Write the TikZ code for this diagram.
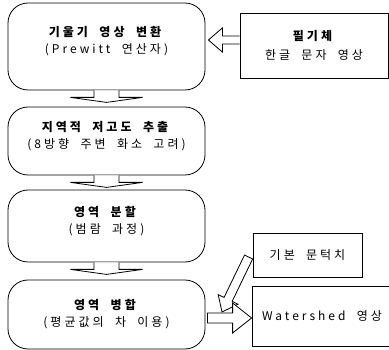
\documentclass[tikz,border=0pt]{standalone}
\usepackage{fontspec}
\setmainfont{Noto Sans CJK KR}[LetterSpace=25, WordSpace=2]
\usetikzlibrary{calc}
\tikzset{
  flow/.style={draw, line width=0.8pt, rounded corners=20pt, minimum width=197pt, align=center, inner sep=0pt, font=\fontsize{12}{17}\selectfont},
  sidebox/.style={draw, line width=0.8pt, align=center, inner sep=0pt, font=\fontsize{12}{19}\selectfont},
  barrow/.style={draw, line width=0.8pt, fill=white, line join=miter},
}
\begin{document}
\begin{tikzpicture}[x=1pt,y=-1pt]
\useasboundingbox (0,0) rectangle (389,350);
% main flow
\node[flow, minimum height=87pt] (b1) at (106.5,46.5) {\textbf{기울기 영상 변환}\\(Prewitt 연산자)\\[-4pt]};
\node[flow, minimum height=68pt] (b2) at (106.5,141) {\textbf{지역적 저고도 추출}\\(8방향 주변 화소 고려)\\[-4pt]};
\node[flow, minimum height=72pt] (b3) at (106.5,226) {\textbf{영역 분할}\\(범람 과정)\\[-4pt]};
\node[flow, minimum height=69pt] (b4) at (106.5,314.5) {\textbf{영역 병합}\\(평균값의 차 이용)};
% side boxes
\node[sidebox, minimum width=148pt, minimum height=65pt] (in) at (314,45.5) {\textbf{필기체}\\한글 문자 영상};
\node[sidebox, minimum width=109pt, minimum height=44pt] (th) at (307.5,255) {기본 문턱치};
\node[sidebox, minimum width=140pt, minimum height=60pt] (ws) at (322,316) {Watershed 영상};
% down block arrows
\foreach \a/\b in {b1/b2, b2/b3, b3/b4}{
  \draw[barrow] ($(\a.south)+(-12.5,0)$) -- ++(0,7) -- ++(-23.5,0)
    -- ($(\a.south)+(0,12)$) -- ($(\a.south)+(36,7)$) -- ++(-23.5,0) -- ++(0,-7);
}
% left arrow: input -> b1
\coordinate (la) at (in.west |- 0,40);
\coordinate (lt) at ($(b1.east |- la)+(3,0)$);
\draw[barrow] ($(la)+(0,-4)$) -- ($(lt)+(14,-4)$) -- ($(lt)+(14,-12)$) -- (lt)
  -- ($(lt)+(14,12)$) -- ($(lt)+(14,4)$) -- ($(la)+(0,4)$);
% diagonal arrow: threshold -> merge arrow
\coordinate (T) at ($(th.west)+(-4,2)$);
\coordinate (P) at (222,312);
\coordinate (H) at ($(P)!14pt!(T)$);
\draw[barrow] ($(T)!4.5pt!90:(P)$) -- ($(H)!4.5pt!90:(P)$) -- ($(H)!11pt!90:(P)$) -- (P)
  -- ($(H)!11pt!-90:(P)$) -- ($(H)!4.5pt!-90:(P)$) -- ($(T)!4.5pt!-90:(P)$) -- cycle;
% right arrow: b4 -> watershed
\coordinate (rt) at (ws.west |- 0,318);
\coordinate (rs) at ($(b4.east |- rt)+(2,0)$);
\draw[barrow] ($(rs)+(0,-5)$) -- ($(rt)+(-19,-5)$) -- ($(rt)+(-19,-15)$) -- (rt)
  -- ($(rt)+(-19,15)$) -- ($(rt)+(-19,5)$) -- ($(rs)+(0,5)$) -- cycle;
\end{tikzpicture}
\end{document}
